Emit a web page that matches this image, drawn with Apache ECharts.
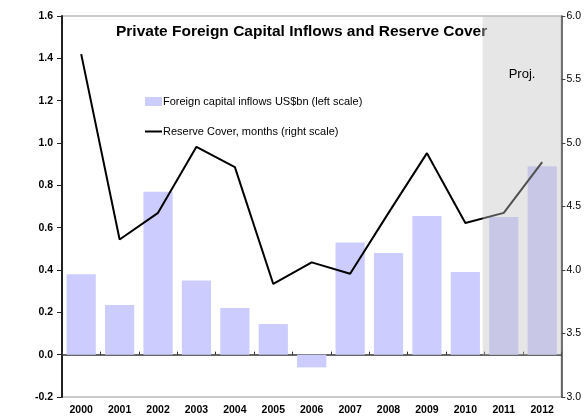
<!DOCTYPE html>
<html>
<head>
<meta charset="utf-8">
<script src="https://cdn.jsdelivr.net/npm/echarts@6/dist/echarts.min.js"></script>
<style>
  html, body { margin: 0; padding: 0; background: #fff; }
  #chart { width: 584px; height: 418px; }
</style>
</head>
<body>
<div id="chart"></div>
<script>
var years = ['2000', '2001', '2002', '2003', '2004', '2005', '2006', '2007', '2008', '2009', '2010', '2011', '2012'];
var inflows = [0.38, 0.235, 0.77, 0.35, 0.22, 0.145, -0.06, 0.53, 0.48, 0.655, 0.39, 0.65, 0.89];
var reserveCover = [5.70, 4.24, 4.45, 4.97, 4.81, 3.89, 4.06, 3.97, 4.45, 4.92, 4.37, 4.45, 4.85];
var leftTicks = { min: -0.2, max: 1.6, interval: 0.2 };
var rightTicks = { min: 3.0, max: 6.0, interval: 0.5 };
// projection shading spans 2011-2012 (category index 11..13 on a hidden value axis)
var projFrom = 10.95, projTo = 13;

var chart = echarts.init(document.getElementById('chart'));
var font = 'Liberation Sans, Arial, sans-serif';

var option = {
  animation: false,
  textStyle: { fontFamily: font },
  title: {
    text: 'Private Foreign Capital Inflows and Reserve Cover',
    left: 116,
    top: 24,
    padding: 0,
    textStyle: { fontSize: 15.5, fontWeight: 'bold', color: '#000', fontFamily: font }
  },
  legend: {
    orient: 'vertical',
    left: 145,
    top: 96,
    padding: 0,
    itemGap: 19,
    itemWidth: 17,
    itemHeight: 9,
    textStyle: { fontSize: 11, color: '#000', fontFamily: font, padding: [0, 0, 0, -4] },
    data: [
      { name: 'Foreign capital inflows US$bn (left scale)', icon: 'rect' },
      { name: 'Reserve Cover, months (right scale)', icon: 'path://M0,0L17,0L17,2L0,2Z' }
    ]
  },
  grid: { left: 62, right: 21, top: 16, bottom: 21, show: true, borderColor: '#bbbbbb', borderWidth: 1.5 },
  xAxis: [
    {
      type: 'category',
      data: years,
      position: 'bottom',
      axisLine: { show: false },
      axisTick: { show: false },
      axisLabel: { color: '#000', fontWeight: 'bold', fontSize: 10.5, margin: 8, fontFamily: font }
    },
    {
      type: 'category',
      data: years,
      position: 'bottom',
      axisLine: { onZero: true, onZeroAxisIndex: 0, lineStyle: { color: '#333', width: 1.5 } },
      axisTick: { show: true, inside: true, length: 3, lineStyle: { color: '#333' } },
      axisLabel: { show: false }
    },
    {
      type: 'value',
      min: 0,
      max: years.length,
      show: false
    }
  ],
  yAxis: [
    {
      type: 'value',
      min: leftTicks.min,
      max: leftTicks.max,
      interval: leftTicks.interval,
      position: 'left',
      splitLine: { show: false },
      axisLine: { show: true, lineStyle: { color: '#222', width: 2 } },
      axisTick: { show: true, length: 5, lineStyle: { color: '#222' } },
      axisLabel: {
        color: '#000', fontWeight: 'bold', fontSize: 10.5, margin: 9, fontFamily: font,
        formatter: function (v) { return v.toFixed(1); }
      }
    },
    {
      type: 'value',
      min: rightTicks.min,
      max: rightTicks.max,
      interval: rightTicks.interval,
      position: 'right',
      splitLine: { show: false },
      axisLine: { show: true, lineStyle: { color: '#444', width: 1.5 } },
      axisTick: { show: true, length: 4, lineStyle: { color: '#444' } },
      axisLabel: {
        color: '#000', fontSize: 10.5, margin: 5, fontFamily: font,
        formatter: function (v) { return v.toFixed(1); }
      }
    }
  ],
  series: [
    {
      name: 'Foreign capital inflows US$bn (left scale)',
      type: 'bar',
      xAxisIndex: 0,
      yAxisIndex: 0,
      data: inflows,
      barCategoryGap: '24%',
      itemStyle: { color: '#ccccff' },
      z: 2
    },
    {
      name: 'Reserve Cover, months (right scale)',
      type: 'line',
      xAxisIndex: 0,
      yAxisIndex: 1,
      data: reserveCover,
      symbol: 'none',
      lineStyle: { color: '#000', width: 2 },
      itemStyle: { color: '#000' },
      z: 3
    },
    {
      name: 'proj',
      type: 'line',
      xAxisIndex: 2,
      yAxisIndex: 0,
      data: [],
      z: 5,
      markArea: {
        silent: true,
        z: 10,
        itemStyle: { color: 'rgba(194,194,194,0.41)' },
        label: {
          show: true,
          position: 'insideTop',
          distance: 52,
          color: '#000',
          fontSize: 13,
          fontFamily: font
        },
        data: [[
          { name: 'Proj.', xAxis: projFrom, yAxis: 0 },
          { xAxis: projTo, yAxis: leftTicks.max }
        ]]
      }
    }
  ]
};

chart.setOption(option);
</script>
</body>
</html>
